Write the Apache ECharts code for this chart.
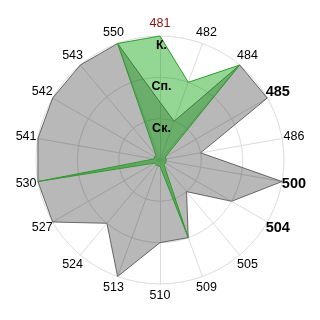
<!DOCTYPE html>
<html><head><meta charset="utf-8">
<script src="https://cdn.jsdelivr.net/npm/echarts@6/dist/echarts.min.js"></script>
<style>html,body{margin:0;padding:0;background:#fff}#c{width:320px;height:320px}</style>
</head><body><div id="c"></div>
<script>
// Categories listed clockwise starting from the top
const categories = ['481','482','484','485','486','500','504','505','509','510','513','524','527','530','541','542','543','550'];
const boldCategories = ['485','500','504'];
const redCategories = ['481'];
const levelLabels = ['', 'Ск.', 'Сп.', 'К.'];
const grayValues  = [1.4, 1, 3, 3, 1, 3, 2, 1, 2, 2, 3, 2, 3, 3, 3, 3, 3, 3];
const greenValues = [3, 2, 3, 0.15, 0.15, 0.15, 0.15, 0.15, 2, 0.15, 0.15, 0.15, 0.15, 3, 0.15, 0.15, 0.15, 3];
const maxValue = 3;

const FONT = '"Liberation Sans", Arial, sans-serif';
// ECharts radar runs counter-clockwise: reorder so the picture runs clockwise
const order = categories.map((_, i) => i === 0 ? 0 : categories.length - i);
const mainIndicators = order.map(i => ({ name: categories[i], min: 0, max: maxValue }));
const labelIndicators = order.map((i, k) => {
  const o = { name: '', min: 0, max: maxValue };
  if (k === 0) {
    o.axisLabel = {
      show: true,
      formatter: v => levelLabels[Math.round(v)] || '',
      color: '#000', fontWeight: 'bold', fontSize: 12.5, fontFamily: FONT,
      align: 'center', verticalAlign: 'top', margin: 0, padding: [3, 0, 0, 3]
    };
  }
  return o;
});

const chart = echarts.init(document.getElementById('c'), null, { renderer: 'canvas' });
chart.setOption({
  animation: false,
  backgroundColor: '#fff',
  radar: [
    {
      center: ['50%', '50%'], radius: 124, startAngle: 90, shape: 'circle', splitNumber: 3,
      nameGap: 12,
      axisName: {
        color: '#000', fontSize: 12.5, fontFamily: FONT, align: 'center', verticalAlign: 'middle',
        formatter: name => boldCategories.includes(name) ? '{b|' + name + '}' : (redCategories.includes(name) ? '{r|' + name + '}' : '{n|' + name + '}'),
        rich: {
          n: { color: '#000', fontSize: 12.5, fontFamily: FONT },
          b: { color: '#000', fontSize: 14.5, fontWeight: 'bold', fontFamily: FONT },
          r: { color: '#8b1010', fontSize: 12.5, fontFamily: FONT }
        }
      },
      axisLine: { lineStyle: { color: '#dcdcdc', width: 1 } },
      splitLine: { lineStyle: { color: '#dcdcdc', width: 1 } },
      splitArea: { show: false },
      axisTick: { show: false },
      axisLabel: { show: false },
      indicator: mainIndicators
    },
    {
      center: ['50%', '50%'], radius: 124, startAngle: 90, shape: 'circle', splitNumber: 3,
      z: 10,
      axisName: { show: false },
      axisLine: { show: false },
      splitLine: { show: false },
      splitArea: { show: false },
      axisTick: { show: false },
      axisLabel: { show: false },
      indicator: labelIndicators
    }
  ],
  series: [
    {
      type: 'radar', radarIndex: 0, symbol: 'none', silent: true,
      lineStyle: { color: '#7a7a7a', width: 1 },
      areaStyle: { color: 'rgba(0,0,0,0.28)', opacity: 1 },
      data: [{ value: order.map(i => grayValues[i]) }]
    },
    {
      type: 'radar', radarIndex: 0, symbol: 'none', silent: true,
      lineStyle: { color: '#3a9a3a', width: 1 },
      areaStyle: { color: 'rgba(0,160,0,0.42)', opacity: 1 },
      data: [{ value: order.map(i => greenValues[i]) }]
    }
  ]
});
</script>
</body></html>
